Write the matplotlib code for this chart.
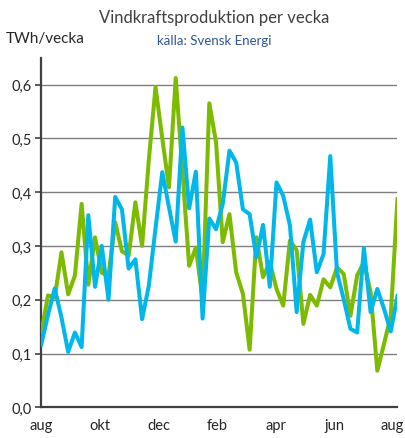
import matplotlib
matplotlib.use("Agg")
import matplotlib.pyplot as plt
import numpy as np

plt.rcParams['font.family'] = ['Lato', 'DejaVu Sans']

# weekly wind power production (TWh/week), aug -> aug
green = [0.139, 0.208, 0.204, 0.288, 0.210, 0.245, 0.378, 0.228, 0.316, 0.250,
         0.245, 0.344, 0.290, 0.282, 0.381, 0.300, 0.460, 0.595, 0.500, 0.409,
         0.612, 0.440, 0.263, 0.297, 0.200, 0.565, 0.493, 0.307, 0.359, 0.251,
         0.211, 0.107, 0.316, 0.242, 0.270, 0.220, 0.189, 0.310, 0.292, 0.155,
         0.209, 0.189, 0.238, 0.223, 0.260, 0.248, 0.170, 0.245, 0.270, 0.214,
         0.068, 0.118, 0.170, 0.387]
blue = [0.117, 0.172, 0.221, 0.167, 0.103, 0.139, 0.112, 0.357, 0.224, 0.300,
        0.200, 0.391, 0.368, 0.258, 0.275, 0.164, 0.226, 0.333, 0.437, 0.372,
        0.308, 0.520, 0.370, 0.438, 0.165, 0.351, 0.331, 0.378, 0.477, 0.455,
        0.368, 0.359, 0.279, 0.339, 0.224, 0.418, 0.393, 0.338, 0.177, 0.307,
        0.349, 0.251, 0.285, 0.467, 0.251, 0.201, 0.146, 0.139, 0.296, 0.177,
        0.220, 0.183, 0.141, 0.207]
month_labels = ['aug', 'okt', 'dec', 'feb', 'apr', 'jun', 'aug']
y_ticks = [0.0, 0.1, 0.2, 0.3, 0.4, 0.5, 0.6]

fig = plt.figure(figsize=(4.06, 4.39), dpi=100)
ax = fig.add_axes([0.1017, 0.0699, 0.8773, 0.7966])

x = np.arange(len(green))
ax.plot(x, green, color='#7DBB00', lw=2.9, solid_joinstyle='round', zorder=3)
ax.plot(x, blue, color='#00B7EB', lw=2.9, solid_joinstyle='round', zorder=4)

ax.set_xlim(0, len(green) - 1)
ax.set_ylim(0, 0.65)
ax.set_yticks(y_ticks)
ax.set_yticklabels([f"{v:.1f}".replace('.', ',') for v in y_ticks])
weeks_per_2months = 61 / 7
ax.set_xticks(np.arange(len(month_labels)) * weeks_per_2months)
ax.set_xticklabels(month_labels)
ax.grid(axis='y', color='#7f7f7f', lw=1.0, zorder=0)
ax.grid(axis='x', visible=False)
for s in ['top', 'right']:
    ax.spines[s].set_visible(False)
ax.spines['left'].set_color('#404040')
ax.spines['bottom'].set_color('#404040')
ax.spines['left'].set_linewidth(1.6)
ax.spines['bottom'].set_linewidth(1.6)
ax.tick_params(axis='y', length=4, width=1.2, color='#404040', labelsize=10.5,
               labelcolor='#262626', pad=3)
ax.tick_params(axis='x', length=0, labelsize=10.5, labelcolor='#262626', pad=8)

fig.text(0.527, 0.958, 'Vindkraftsproduktion per vecka', ha='center', va='center',
         fontsize=12, color='#404040')
fig.text(0.527, 0.906, 'källa: Svensk Energi', ha='center', va='center',
         fontsize=9.5, color='#2F5597')
fig.text(0.015, 0.912, 'TWh/vecka', ha='left', va='center',
         fontsize=11, color='#262626')

fig.savefig('out.png', dpi=100)
